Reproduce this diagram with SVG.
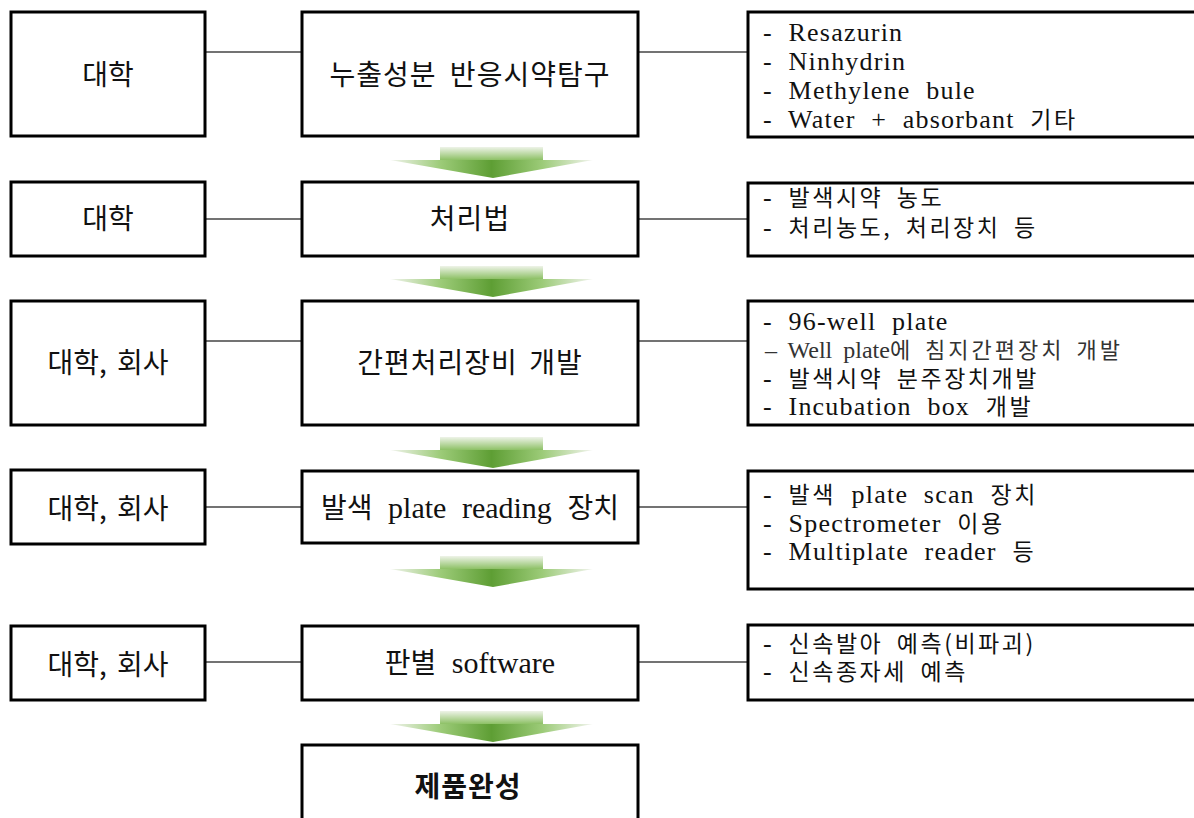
<svg xmlns="http://www.w3.org/2000/svg" width="1194" height="818" viewBox="0 0 1194 818">
<defs>
<style>
.box{fill:#fff;stroke:#000;stroke-width:3}
.conn{stroke:#444;stroke-width:1.3;fill:none}
.ko{font-family:"Noto Sans CJK KR",sans-serif;font-size:28px;fill:#111}
.mx{font-family:"Liberation Serif","Noto Sans CJK KR",serif;font-size:30px;fill:#111;word-spacing:8px}
.mx .k{font-family:"Noto Sans CJK KR",sans-serif;font-size:28px}
.rt{font-family:"Liberation Serif","Noto Sans CJK KR",serif;font-size:26px;fill:#111;word-spacing:8px;letter-spacing:1.2px}
.rt .k{font-family:"Noto Sans CJK KR",sans-serif;font-size:23px;letter-spacing:2.5px;word-spacing:6px}
.rt.sm{font-size:24px;fill:#333;word-spacing:5px;letter-spacing:0}
.rt.sm .k{font-size:22px;letter-spacing:3px;word-spacing:4px}
</style>
<linearGradient id="gShaft" x1="0" y1="0" x2="0" y2="1">
<stop offset="0" stop-color="#eef3e8"/>
<stop offset="1" stop-color="#86bd5c"/>
</linearGradient>
<linearGradient id="gHead" x1="0" y1="0" x2="1" y2="0">
<stop offset="0" stop-color="#f2f4ee"/>
<stop offset="0.25" stop-color="#9ccb78"/>
<stop offset="0.5" stop-color="#5e9e34"/>
<stop offset="0.75" stop-color="#9ccb78"/>
<stop offset="1" stop-color="#f2f4ee"/>
</linearGradient>
<g id="arrow">
<rect x="440" y="0" width="103" height="14" fill="url(#gShaft)"/>
<polygon points="390,13 593,13 493,31" fill="url(#gHead)"/>
</g>
</defs>
<rect width="1194" height="818" fill="#fff"/>

<g id="connectors">
<line class="conn" x1="205" y1="52" x2="302" y2="52"/>
<line class="conn" x1="638" y1="52" x2="748" y2="52"/>
<line class="conn" x1="205" y1="219" x2="302" y2="219"/>
<line class="conn" x1="638" y1="219" x2="748" y2="219"/>
<line class="conn" x1="205" y1="341" x2="302" y2="341"/>
<line class="conn" x1="638" y1="341" x2="748" y2="341"/>
<line class="conn" x1="205" y1="507" x2="302" y2="507"/>
<line class="conn" x1="638" y1="507" x2="748" y2="507"/>
<line class="conn" x1="205" y1="662" x2="302" y2="662"/>
<line class="conn" x1="638" y1="662" x2="748" y2="662"/>
<use href="#arrow" transform="translate(0,147)"/>
<use href="#arrow" transform="translate(0,266)"/>
<use href="#arrow" transform="translate(0,437)"/>
<use href="#arrow" transform="translate(0,556)"/>
<use href="#arrow" transform="translate(0,711)"/>
</g>

<g id="row1-org">
<rect class="box" x="11" y="12" width="194" height="124"/>
<text class="ko" x="108" y="85" text-anchor="middle">대학</text>
</g>
<g id="row1-step">
<rect class="box" x="302" y="12" width="336" height="124"/>
<text class="ko" x="470" y="85" text-anchor="middle" letter-spacing="1" word-spacing="6">누출성분 반응시약탐구</text>
</g>
<g id="row1-detail">
<rect class="box" x="748" y="12" width="460" height="125"/>
<text class="rt" x="763" y="41">- Resazurin</text>
<text class="rt" x="763" y="70">- Ninhydrin</text>
<text class="rt" x="763" y="99">- Methylene bule</text>
<text class="rt" x="763" y="128">- Water + absorbant <tspan class="k">기타</tspan></text>
</g>

<g id="row2-org">
<rect class="box" x="11" y="182" width="194" height="74"/>
<text class="ko" x="108" y="229" text-anchor="middle">대학</text>
</g>
<g id="row2-step">
<rect class="box" x="302" y="182" width="336" height="74"/>
<text class="ko" x="470" y="229" text-anchor="middle" letter-spacing="1">처리법</text>
</g>
<g id="row2-detail">
<rect class="box" x="748" y="183" width="460" height="73"/>
<text class="rt" x="763" y="206">- <tspan class="k">발색시약 농도</tspan></text>
<text class="rt" x="763" y="236">- <tspan class="k">처리농도, 처리장치 등</tspan></text>
</g>

<g id="row3-org">
<rect class="box" x="11" y="301" width="194" height="124"/>
<text class="ko" x="108" y="373" text-anchor="middle" word-spacing="4">대학, 회사</text>
</g>
<g id="row3-step">
<rect class="box" x="302" y="301" width="336" height="124"/>
<text class="ko" x="470" y="373" text-anchor="middle" letter-spacing="1" word-spacing="4">간편처리장비 개발</text>
</g>
<g id="row3-detail">
<rect class="box" x="748" y="301" width="460" height="124"/>
<text class="rt" x="763" y="330">- 96-well plate</text>
<text class="rt sm" x="765" y="358">– Well plate<tspan class="k">에 침지간편장치 개발</tspan></text>
<text class="rt" x="763" y="387">- <tspan class="k">발색시약 분주장치개발</tspan></text>
<text class="rt" x="763" y="415">- Incubation box <tspan class="k">개발</tspan></text>
</g>

<g id="row4-org">
<rect class="box" x="11" y="470" width="194" height="74"/>
<text class="ko" x="108" y="519" text-anchor="middle" word-spacing="4">대학, 회사</text>
</g>
<g id="row4-step">
<rect class="box" x="302" y="471" width="336" height="72"/>
<text class="mx" x="470" y="518" text-anchor="middle"><tspan class="k">발색</tspan> plate reading <tspan class="k">장치</tspan></text>
</g>
<g id="row4-detail">
<rect class="box" x="748" y="471" width="460" height="118"/>
<text class="rt" x="763" y="503">- <tspan class="k">발색</tspan> plate scan <tspan class="k">장치</tspan></text>
<text class="rt" x="763" y="532">- Spectrometer <tspan class="k">이용</tspan></text>
<text class="rt" x="763" y="560">- Multiplate reader <tspan class="k">등</tspan></text>
</g>

<g id="row5-org">
<rect class="box" x="11" y="626" width="194" height="74"/>
<text class="ko" x="108" y="675" text-anchor="middle" word-spacing="4">대학, 회사</text>
</g>
<g id="row5-step">
<rect class="box" x="302" y="626" width="336" height="74"/>
<text class="mx" x="470" y="673" text-anchor="middle"><tspan class="k">판별</tspan> software</text>
</g>
<g id="row5-detail">
<rect class="box" x="748" y="625" width="460" height="75"/>
<text class="rt" x="763" y="652">- <tspan class="k">신속발아 예측(비파괴)</tspan></text>
<text class="rt" x="763" y="680">- <tspan class="k">신속종자세 예측</tspan></text>
</g>

<g id="final">
<rect class="box" x="302" y="745" width="336" height="80"/>
<text class="ko" x="468" y="797" text-anchor="middle" font-size="33" font-weight="700" letter-spacing="1">제품완성</text>
</g>
</svg>
